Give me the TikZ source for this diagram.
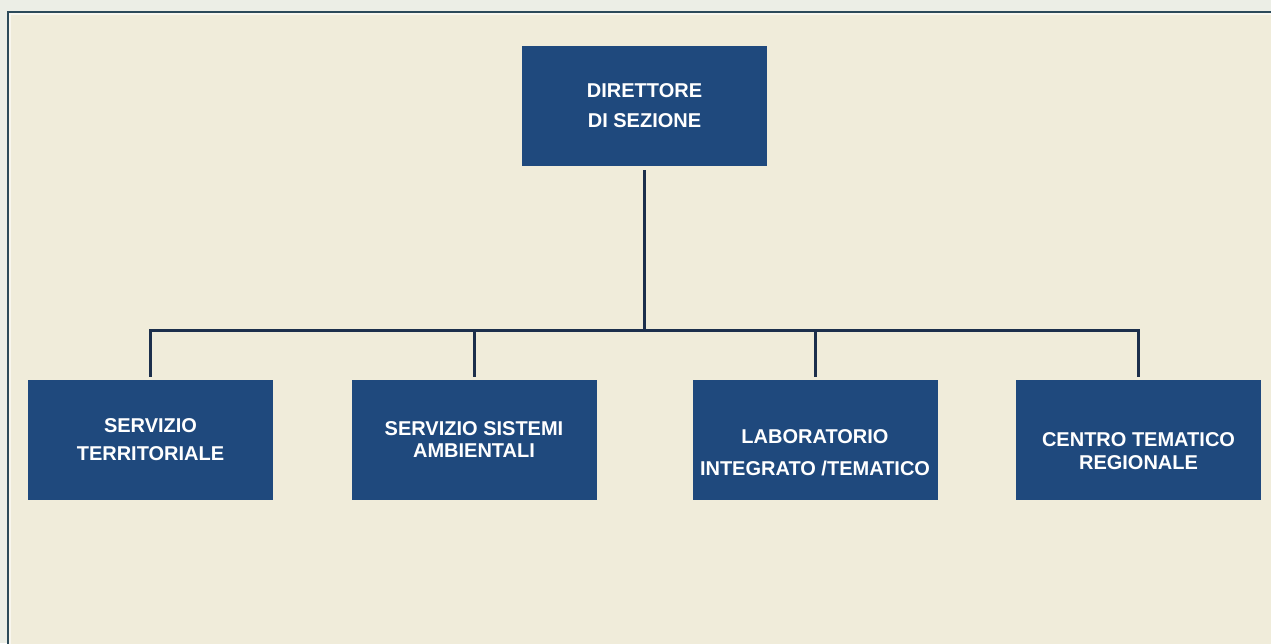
\documentclass[tikz,border=0pt]{standalone}
\usepackage{fontspec}
\setmainfont{Liberation Sans}
\usetikzlibrary{positioning}
\definecolor{boxblue}{HTML}{1F497D}
\definecolor{linknavy}{HTML}{1C2F4C}
\definecolor{paper}{HTML}{F0ECDA}
\definecolor{margin}{HTML}{ECEEE6}
\definecolor{frameteal}{HTML}{2C4A5A}

\begin{document}
\begin{tikzpicture}[
            x=1pt, y=-1pt,
            unit/.style={rectangle, fill=boxblue, minimum width=245pt, minimum height=120pt, inner sep=0pt, align=center, text=white, font=\bfseries\fontsize{20}{28}\selectfont},
            link/.style={draw=linknavy, line width=3pt}
        ]

        % Background and frame
        \useasboundingbox (0,0) rectangle (1271,643);
        \clip (0,0) rectangle (1271,643);
        \fill[margin] (0,0) rectangle (1271,643);
        \filldraw[fill=paper, draw=frameteal, line width=2pt] (8,12) rectangle (1300,700);
        \draw[white!55!paper, line width=2pt] (10,14) rectangle (1300,700);

        % Top: director
        \node[unit] (director) at (644.5,106) {DIRETTORE\\[2pt]DI SEZIONE};
        \coordinate (bus) at (644.5,330);

        % Bottom row: the four units
        \node[unit] (territorio) at (150.5,440) {SERVIZIO\\TERRITORIALE};
        \node[unit] (sistemi) at (474,440) {SERVIZIO SISTEMI\\[-6pt]AMBIENTALI};
        \node[unit, text height=70pt, text depth=0pt] (lab) at (815,440) {LABORATORIO\\[4pt]INTEGRATO /TEMATICO};
        \node[unit, text height=59pt, text depth=0pt] (centro) at (1138.5,440) {CENTRO TEMATICO\\[-5pt]REGIONALE};

        % Connectors
        \draw[link, shorten <=4pt] (director.south) -- (bus);
        \draw[link, shorten >=3pt] (bus) -| (territorio.north);
        \draw[link, shorten >=3pt] (bus) -| (sistemi.north);
        \draw[link, shorten >=3pt] (bus) -| (lab.north);
        \draw[link, shorten >=3pt] (bus) -| (centro.north);

    \end{tikzpicture}
\end{document}
